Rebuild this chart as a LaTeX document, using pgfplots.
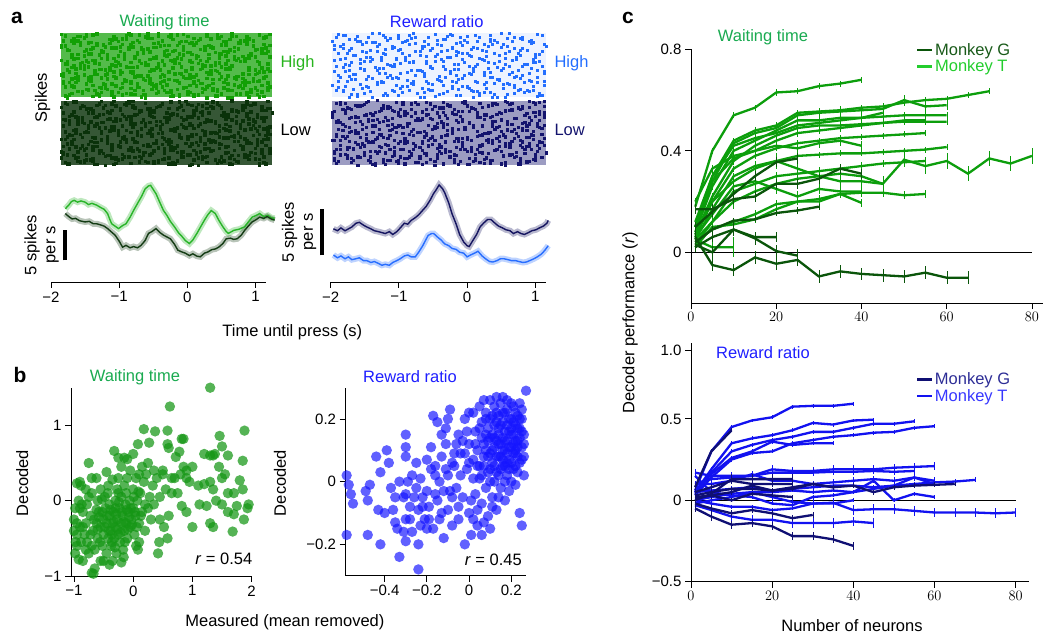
\documentclass[border=0pt]{standalone}
\usepackage{fontspec}
\setmainfont{Liberation Sans}
\usepackage{pgfplots}
\usepackage{pgfplotstable}
\pgfplotsset{compat=1.18}
\definecolor{wt}{RGB}{25,170,80}
\definecolor{rr}{RGB}{30,30,255}
\definecolor{rGH}{RGB}{18,160,5}
\definecolor{rGL}{RGB}{10,50,10}
\definecolor{rBH}{RGB}{35,110,255}
\definecolor{rNL}{RGB}{20,20,110}
\definecolor{tGH}{RGB}{40,180,30}
\definecolor{pGH}{RGB}{40,180,40}
\definecolor{pGL}{RGB}{20,60,20}
\definecolor{pNV}{RGB}{20,20,95}
\definecolor{pLB}{RGB}{40,110,255}
\definecolor{sg}{RGB}{20,150,20}
\definecolor{sb}{RGB}{20,20,255}
\definecolor{cG}{RGB}{10,85,10}
\definecolor{cT}{RGB}{12,158,12}
\definecolor{bG}{RGB}{15,15,115}
\definecolor{bT}{RGB}{18,18,240}
\definecolor{lgG}{RGB}{25,90,25}
\definecolor{lgT}{RGB}{35,205,45}
\definecolor{lbG}{RGB}{45,45,150}
\definecolor{lbT}{RGB}{55,55,255}
\newcommand\fs{\fontsize{15}{17}\selectfont}
\newcommand\fl{\fontsize{16.5}{19}\selectfont}
\pgfplotsset{
  base/.style={scale only axis, clip=false, axis lines*=left, tick align=outside,
    major tick length=6pt, axis line style={line width=0.8pt},
    every tick/.append style={line width=0.8pt, black},
    tick label style={font=\fs}},
  gG/.style={cG, line width=2.3pt, forget plot, error bars/y dir=both, error bars/y fixed=#1, error bars/error mark=none},
  gG/.default=0.012,
  gT/.style={cT, line width=2.3pt, forget plot, error bars/y dir=both, error bars/y fixed=#1, error bars/error mark=none},
  gT/.default=0.012,
  xG/.style={bG, line width=2.3pt, forget plot, error bars/y dir=both, error bars/y fixed=#1, error bars/error mark=none},
  xG/.default=0.012,
  xT/.style={bT, line width=2.3pt, forget plot, error bars/y dir=both, error bars/y fixed=#1, error bars/error mark=none},
  xT/.default=0.012,
  sp/.style={only marks, mark=square*, mark size=#1, mark options={draw=none}},
}
\pgfplotstableread{
x y
0.03 0.02
0.17 0.06
0.24 0.04
0.38 0.01
0.45 0.07
0.56 0.03
0.63 0.05
0.79 0.00
0.85 0.06
0.96 0.02
0.08 0.10
0.12 0.13
0.27 0.08
0.33 0.14
0.49 0.11
0.52 0.09
0.68 0.13
0.74 0.12
0.88 0.08
0.93 0.11
0.05 0.18
0.19 0.15
0.21 0.20
0.36 0.17
0.43 0.21
0.58 0.16
0.61 0.19
0.77 0.15
0.82 0.20
0.99 0.17
0.01 0.25
0.14 0.28
0.29 0.22
0.31 0.26
0.47 0.23
0.54 0.27
0.66 0.22
0.72 0.28
0.89 0.24
0.91 0.26
0.07 0.31
0.11 0.35
0.25 0.33
0.39 0.29
0.41 0.34
0.59 0.30
0.64 0.35
0.76 0.32
0.83 0.29
0.97 0.33
0.04 0.40
0.16 0.37
0.23 0.42
0.34 0.38
0.48 0.36
0.51 0.41
0.69 0.39
0.71 0.42
0.86 0.37
0.94 0.40
0.09 0.46
0.18 0.44
0.26 0.49
0.32 0.47
0.44 0.43
0.57 0.48
0.62 0.45
0.78 0.44
0.81 0.49
0.95 0.46
0.02 0.52
0.13 0.55
0.28 0.51
0.37 0.57
0.46 0.53
0.53 0.56
0.67 0.51
0.73 0.54
0.87 0.57
0.98 0.52
0.06 0.60
0.15 0.58
0.22 0.63
0.35 0.61
0.42 0.59
0.55 0.62
0.65 0.64
0.79 0.58
0.84 0.61
0.92 0.63
0.08 0.67
0.19 0.70
0.27 0.65
0.30 0.69
0.49 0.71
0.58 0.66
0.61 0.70
0.75 0.68
0.89 0.65
0.96 0.69
0.03 0.74
0.11 0.72
0.24 0.77
0.38 0.75
0.45 0.78
0.50 0.73
0.68 0.76
0.77 0.72
0.82 0.78
0.93 0.75
0.00 0.81
0.17 0.84
0.21 0.79
0.33 0.83
0.47 0.80
0.56 0.85
0.63 0.82
0.71 0.79
0.85 0.84
0.99 0.81
0.05 0.88
0.14 0.86
0.29 0.91
0.36 0.89
0.43 0.92
0.59 0.87
0.66 0.90
0.74 0.92
0.88 0.87
0.91 0.89
0.09 0.95
0.12 0.98
0.25 0.93
0.31 0.96
0.41 0.99
0.52 0.94
0.69 0.97
0.76 0.95
0.81 0.99
0.97 0.94
}\rasterpts
\pgfplotstableread{
t y
-1.79 9.7
-1.74 10.3
-1.70 10.9
-1.66 11.1
-1.61 10.8
-1.56 11.0
-1.50 10.8
-1.45 10.4
-1.40 10.6
-1.33 10.3
-1.27 9.9
-1.22 9.6
-1.17 8.9
-1.14 8.0
-1.11 7.2
-1.06 6.8
-1.01 6.4
-0.95 6.9
-0.90 7.2
-0.84 8.3
-0.78 9.6
-0.73 10.6
-0.67 11.8
-0.62 13.0
-0.57 13.5
-0.54 13.6
-0.50 12.9
-0.46 12.2
-0.41 10.9
-0.35 9.4
-0.30 8.6
-0.25 7.6
-0.19 6.7
-0.13 5.7
-0.08 5.1
-0.03 4.4
0.03 3.9
0.08 4.5
0.14 5.6
0.19 6.6
0.25 7.8
0.30 8.7
0.35 9.4
0.41 8.9
0.46 7.8
0.52 6.7
0.57 5.9
0.60 5.6
0.65 5.9
0.68 6.1
0.76 6.3
0.84 6.7
0.90 7.6
0.95 8.3
1.01 8.6
1.06 8.9
1.12 8.4
1.18 8.6
1.23 8.2
1.28 8.1
}\psthGH
\pgfplotstableread{
t y
-1.79 8.9
-1.74 8.4
-1.69 8.0
-1.64 8.1
-1.58 7.7
-1.50 7.5
-1.44 7.6
-1.38 7.2
-1.33 7.2
-1.27 7.0
-1.22 6.8
-1.17 6.4
-1.11 5.8
-1.06 5.3
-1.00 4.3
-0.95 3.3
-0.90 3.6
-0.84 3.2
-0.79 3.4
-0.73 3.2
-0.68 3.6
-0.62 4.4
-0.57 5.6
-0.52 5.9
-0.46 6.4
-0.41 5.8
-0.35 5.3
-0.30 5.0
-0.25 4.7
-0.19 3.8
-0.14 2.8
-0.08 2.5
-0.03 2.3
0.03 1.9
0.08 2.2
0.14 1.8
0.19 1.7
0.25 2.3
0.30 2.5
0.36 2.9
0.41 3.0
0.46 3.3
0.52 3.9
0.57 4.7
0.63 4.8
0.68 4.6
0.73 4.7
0.79 5.3
0.84 6.1
0.90 6.9
0.95 7.5
1.01 7.9
1.06 8.3
1.12 8.1
1.17 8.4
1.23 8.0
1.28 7.8
}\psthGL
\pgfplotstableread{
t y
-1.96 4.8
-1.90 4.6
-1.85 4.9
-1.79 4.6
-1.74 4.8
-1.69 5.0
-1.63 5.4
-1.58 5.5
-1.52 5.2
-1.47 5.0
-1.41 4.8
-1.36 4.6
-1.30 4.5
-1.25 4.4
-1.20 4.3
-1.14 4.5
-1.09 4.2
-1.03 4.5
-0.98 4.9
-0.92 5.4
-0.87 5.3
-0.82 5.7
-0.76 6.0
-0.71 6.3
-0.65 6.8
-0.60 7.2
-0.54 7.9
-0.49 8.6
-0.46 8.9
-0.41 9.5
-0.36 9.1
-0.33 8.7
-0.27 7.6
-0.22 6.4
-0.16 5.3
-0.11 4.2
-0.05 3.4
0.00 3.0
0.03 2.9
0.08 3.5
0.14 4.2
0.19 5.0
0.24 5.4
0.30 5.8
0.35 5.8
0.41 5.4
0.46 5.1
0.52 4.9
0.57 4.7
0.63 4.6
0.68 4.3
0.74 4.5
0.79 4.3
0.84 4.2
0.90 4.4
0.95 4.6
1.01 4.7
1.06 4.9
1.12 5.1
1.17 5.4
1.19 5.7
}\psthNV
\pgfplotstableread{
t y
-1.96 2.0
-1.90 1.7
-1.85 1.9
-1.79 1.6
-1.74 1.8
-1.69 1.5
-1.63 1.6
-1.58 1.7
-1.52 1.4
-1.47 1.4
-1.41 1.2
-1.36 1.3
-1.30 1.1
-1.25 0.9
-1.20 1.0
-1.14 0.9
-1.09 1.2
-1.03 1.4
-0.98 1.6
-0.92 1.9
-0.87 2.0
-0.82 1.8
-0.76 1.8
-0.71 2.3
-0.65 3.0
-0.60 3.7
-0.57 4.1
-0.52 4.3
-0.49 4.3
-0.43 3.9
-0.38 3.6
-0.33 3.2
-0.27 3.0
-0.22 2.7
-0.16 2.6
-0.11 2.3
-0.05 2.2
0.00 1.8
0.05 2.0
0.11 2.2
0.16 2.4
0.22 1.9
0.27 1.6
0.33 1.3
0.38 1.25
0.44 1.4
0.49 1.6
0.54 1.6
0.60 1.5
0.65 1.4
0.71 1.4
0.76 1.3
0.82 1.2
0.87 1.25
0.92 1.4
0.98 1.6
1.03 1.8
1.09 2.1
1.14 2.5
1.19 3.0
}\psthLB
\begin{document}
\begin{tikzpicture}
\useasboundingbox (0,0) rectangle (1044pt,634pt);
% ---------- panel a rasters ----------
\begin{axis}[scale only axis, hide axis, clip=false, at={(61pt,469pt)}, anchor=south west,
  width=211pt, height=132pt, xmin=0, xmax=1, ymin=0, ymax=2]
\addplot[fill=rGH!72!white, draw=none] coordinates {(0,1.023)(1,1.023)(1,2)(0,2)};
\addplot[fill=rGL!82!white, draw=none] coordinates {(0,0)(1,0)(1,0.977)(0,0.977)};
\addplot[sp=1.25pt, rGH] table[x=x, y expr=1.023+0.977*\thisrow{y}] {\rasterpts};
\addplot[sp=1.25pt, rGH] table[x=y, y expr=1.023+0.977*\thisrow{x}] {\rasterpts};
\addplot[sp=1.25pt, rGH] table[x expr={mod(\thisrow{x}+0.37,1)}, y expr={1.023+0.977*mod(\thisrow{y}+0.53,1)}] {\rasterpts};
\addplot[sp=1.25pt, rGH] table[x expr={mod(\thisrow{y}+0.61,1)}, y expr={1.023+0.977*mod(\thisrow{x}+0.29,1)}] {\rasterpts};
\addplot[sp=1.25pt, rGL] table[x expr=1-\thisrow{x}, y expr=0.977*\thisrow{y}] {\rasterpts};
\addplot[sp=1.25pt, rGL] table[x=y, y expr=0.977*(1-\thisrow{x})] {\rasterpts};
\addplot[sp=1.25pt, rGL] table[x expr={mod(\thisrow{x}+0.19,1)}, y expr={0.977*mod(\thisrow{y}+0.41,1)}] {\rasterpts};
\addplot[sp=1.25pt, rGL] table[x expr={mod(\thisrow{y}+0.73,1)}, y expr={0.977*mod(\thisrow{x}+0.57,1)}] {\rasterpts};
\end{axis}
\begin{axis}[scale only axis, hide axis, clip=false, at={(332pt,469pt)}, anchor=south west,
  width=214pt, height=132pt, xmin=0, xmax=1, ymin=0, ymax=2]
\addplot[fill=rBH!8!white, draw=none] coordinates {(0,1.023)(1,1.023)(1,2)(0,2)};
\addplot[fill=rNL!42!white, draw=none] coordinates {(0,0)(1,0)(1,0.977)(0,0.977)};
\addplot[sp=1.0pt, rBH] table[x=x, y expr=1.023+0.977*(1-\thisrow{y})] {\rasterpts};
\addplot[sp=1.0pt, rBH] table[x expr=1-\thisrow{y}, y expr=1.023+0.977*\thisrow{x}] {\rasterpts};
\addplot[sp=1.0pt, rBH] table[x expr={mod(\thisrow{x}+0.47,1)}, y expr={1.023+0.977*mod(\thisrow{y}+0.31,1)}] {\rasterpts};
\addplot[sp=1.1pt, rNL] table[x expr=1-\thisrow{x}, y expr=0.977*(1-\thisrow{y})] {\rasterpts};
\addplot[sp=1.1pt, rNL] table[x=y, y expr=0.977*\thisrow{x}] {\rasterpts};
\addplot[sp=1.1pt, rNL] table[x expr={mod(\thisrow{x}+0.23,1)}, y expr={0.977*mod(\thisrow{y}+0.67,1)}] {\rasterpts};
\addplot[sp=1.1pt, rNL] table[x expr={mod(\thisrow{y}+0.55,1)}, y expr={0.977*mod(\thisrow{x}+0.13,1)}] {\rasterpts};
\end{axis}
% ---------- panel a PSTH ----------
\begin{axis}[base, axis x line*=bottom, axis y line=none, at={(51pt,352pt)}, anchor=south west,
  width=214.8pt, height=101.7pt, xmin=-2, xmax=1.15, ymin=-2.5, ymax=14.44,
  xtick={-2,-1,0,1}, xticklabels={−2,−1,0,1}]
\addplot[pGH, opacity=0.3, line width=6pt] table[x=t,y=y] {\psthGH};
\addplot[pGL, opacity=0.3, line width=6pt] table[x=t,y=y] {\psthGL};
\addplot[pGH, line width=1.4pt] table[x=t,y=y] {\psthGH};
\addplot[pGL, line width=1.4pt] table[x=t,y=y] {\psthGL};
\addplot[black, line width=4pt] coordinates {(-1.80,1.11)(-1.80,6.11)};
\end{axis}
\begin{axis}[base, axis x line*=bottom, axis y line=none, at={(330.7pt,352pt)}, anchor=south west,
  width=214.8pt, height=101.7pt, xmin=-2, xmax=1.15, ymin=-0.89, ymax=10,
  xtick={-2,-1,0,1}, xticklabels={−2,−1,0,1}]
\addplot[pNV, opacity=0.3, line width=6pt] table[x=t,y=y] {\psthNV};
\addplot[pLB, opacity=0.3, line width=6pt] table[x=t,y=y] {\psthLB};
\addplot[pNV, line width=1.4pt] table[x=t,y=y] {\psthNV};
\addplot[pLB, line width=1.4pt] table[x=t,y=y] {\psthLB};
\addplot[black, line width=4pt] coordinates {(-2.13,1.96)(-2.13,6.96)};
\end{axis}
% ---------- panel b ----------
\begin{axis}[base, at={(71pt,58pt)}, anchor=south west, width=180.6pt, height=188.3pt,
  xmin=-1.05, xmax=2, ymin=-1, ymax=1.5, xtick={-1,0,1,2}, xticklabels={−1,0,1,2},
  ytick={-1,0,1}, yticklabels={−1,0,1}]
\addplot[only marks, sg, mark=*, mark size=5.2pt, mark options={draw opacity=0, fill=sg, fill opacity=0.72}] coordinates {
(1.3,1.5)(0.62,1.25)(1.88,0.93)(0.18,0.95)(0.37,0.92)(0.58,0.93)(0.82,0.82)(0.85,0.82)(1.46,0.86)(0.58,0.75)(0.27,0.77)(0.08,0.75)(1.5,0.72)(0.6,0.7)(-0.32,0.66)(0.78,0.65)(1.2,0.62)(1.3,0.6)(1.38,0.62)(1.6,0.6)(0.0,0.62)(-0.15,0.57)(-0.25,0.57)(1.85,0.53)(-0.75,0.5)(0.72,0.58)(1.0,0.45)(0.35,0.4)(0.5,0.4)(1.45,0.45)(1.55,0.35)(1.5,0.3)(1.8,0.27)(0.9,0.3)(0.65,0.3)(1.3,0.25)(1.2,0.22)(1.85,0.15)(1.1,0.2)(1.0,-0.35)(1.3,-0.3)(1.35,0.6)(1.6,0.1)(1.12,-0.05)(1.24,-0.07)(1.5,-0.05)(1.75,-0.07)(1.95,-0.05)(1.93,-0.1)(1.6,-0.15)(1.7,-0.18)(1.87,-0.25)(1.68,-0.41)(1.35,-0.35)(0.82,-0.07)(0.44,-0.55)(0.58,-0.5)(0.52,-0.35)(0.45,-0.25)(0.25,-0.1)(0.42,-0.7)(-0.67,-0.97)(-0.7,-0.96)(-0.2,-0.82)(-0.5,-0.8)(0.08,-0.65)(0.05,-0.6)(1.35,0.15)(1.7,0.1)(1.4,0.0)(0.95,0.25)(0.75,0.1)(0.9,-0.15)
(-1.0,-0.25)(-1.0,-0.4)(-0.98,-0.7)(-0.95,-0.6)(-0.92,-0.78)(-0.95,-0.3)(-0.9,-0.1)(-0.92,0.0)(-0.95,0.23)(-0.88,0.2)(-0.85,-0.15)(-0.82,-0.45)(-0.8,-0.3)(-0.78,-0.55)(-0.75,-0.7)(-0.75,0.05)(-0.72,-0.2)(-0.7,0.1)(-0.68,-0.4)(-0.65,-0.65)(-0.62,-0.3)(-0.6,0.0)(-0.6,-0.5)(-0.58,-0.15)(-0.55,-0.35)(-0.55,0.15)(-0.52,-0.6)(-0.5,-0.25)(-0.5,-0.45)(-0.48,0.05)(-0.47,-0.1)(-0.45,-0.7)(-0.45,-0.3)(-0.42,-0.5)(-0.42,0.2)(-0.4,-0.2)(-0.4,-0.05)(-0.38,-0.4)(-0.37,-0.6)(-0.35,-0.3)(-0.35,0.28)(-0.33,-0.15)(-0.32,-0.5)(-0.3,0.0)(-0.3,-0.35)(-0.28,-0.7)(-0.27,-0.25)(-0.25,-0.45)(-0.25,0.1)(-0.23,-0.1)(-0.22,-0.55)(-0.2,-0.3)(-0.2,0.05)(-0.18,-0.2)(-0.17,-0.65)(-0.15,-0.4)(-0.15,0.2)(-0.13,-0.05)(-0.12,-0.3)(-0.1,-0.5)(-0.1,0.3)(-0.08,-0.15)(-0.06,0.0)(-0.05,-0.35)(-0.03,-0.25)(0.0,-0.1)(0.0,0.15)(0.02,-0.45)(0.04,-0.2)(0.05,0.3)(0.07,0.0)(0.1,-0.3)(0.12,0.1)(0.15,-0.15)(0.18,0.25)(0.2,-0.05)(0.22,0.35)(0.28,0.05)(0.3,-0.25)(0.33,0.2)(0.35,-0.05)(0.4,0.3)(0.45,0.05)(0.5,0.35)(0.55,0.15)(0.6,-0.2)(0.65,0.1)(0.7,0.3)(0.8,0.35)(0.85,0.45)(0.9,0.4)(-0.55,-0.8)(-0.35,-0.8)(-0.4,-0.85)(-0.65,-0.9)(-0.85,-0.8)(-0.3,-0.1)(-0.62,0.3)(-0.7,0.3)(-0.9,0.25)(-0.8,0.15)(-0.45,0.38)(-0.2,0.45)(-0.1,0.55)(0.15,0.45)(0.25,0.5)(0.1,0.35)(-0.05,0.4)(-0.25,0.3)(-0.78,-0.05)(-0.58,-0.22)(-0.36,-0.55)(-0.16,-0.75)(0.1,-0.55)(0.2,-0.4)(-0.95,-0.45)(-0.88,-0.55)(-0.98,-0.1)
(-0.85,-0.35)(-0.72,-0.45)(-0.66,-0.25)(-0.6,-0.38)(-0.56,-0.55)(-0.52,-0.15)(-0.48,-0.35)(-0.44,-0.2)(-0.41,-0.4)(-0.38,-0.12)(-0.36,-0.45)(-0.33,-0.28)(-0.31,-0.62)(-0.29,-0.18)(-0.26,-0.38)(-0.24,-0.02)(-0.21,-0.42)(-0.19,-0.15)(-0.16,-0.28)(-0.14,-0.55)(-0.11,-0.12)(-0.09,-0.38)(-0.07,-0.22)(-0.04,-0.1)(-0.02,-0.32)(0.01,0.05)(0.03,-0.15)(0.06,-0.35)(0.09,0.12)(0.13,-0.2)(-0.62,-0.12)(-0.7,-0.6)(-0.8,-0.65)(-0.9,-0.35)(-0.97,-0.55)(-0.87,-0.05)(-0.53,0.02)(-0.43,0.1)(-0.27,0.15)(-0.12,0.1)
};
\end{axis}
\begin{axis}[base, at={(345.6pt,58.3pt)}, anchor=south west, width=180.4pt, height=188.1pt,
  xmin=-0.585, xmax=0.27, ymin=-0.3, ymax=0.3, xtick={-0.4,-0.2,0,0.2}, xticklabels={−0.4,−0.2,0,0.2},
  ytick={-0.2,0,0.2}, yticklabels={−0.2,0,0.2}]
\addplot[only marks, sb, mark=*, mark size=5.2pt, mark options={draw opacity=0, fill=sb, fill opacity=0.68}] coordinates {
(-0.58,0.02)(-0.57,-0.01)(-0.56,-0.04)(-0.55,-0.07)(-0.58,-0.17)(-0.48,-0.17)(-0.48,-0.06)(-0.49,-0.03)(-0.47,-0.01)(-0.44,0.08)(-0.42,0.03)(-0.43,-0.09)(-0.42,-0.2)(-0.4,-0.1)(-0.39,0.1)(-0.38,0.06)(-0.37,-0.02)(-0.36,-0.09)(-0.35,-0.13)(-0.34,-0.15)(-0.33,0.0)(-0.33,-0.24)(-0.31,-0.05)(-0.3,0.15)(-0.3,0.11)(-0.3,0.08)(-0.3,-0.04)(-0.3,-0.12)(-0.3,-0.19)(-0.28,-0.08)(-0.27,0.02)(-0.25,-0.02)(-0.24,-0.09)(-0.24,-0.2)(-0.24,-0.28)(-0.23,0.01)(-0.22,-0.05)(-0.21,-0.12)(-0.2,0.07)(-0.2,-0.03)(-0.19,-0.08)(-0.18,0.11)(-0.17,-0.15)(-0.16,0.02)(-0.16,0.05)(-0.15,-0.06)(-0.14,-0.12)(-0.13,0.08)(-0.12,-0.03)(-0.12,-0.18)(-0.11,0.17)(-0.11,0.12)(-0.1,0.02)(-0.1,-0.09)(-0.1,0.2)(-0.09,0.23)(-0.08,-0.14)(-0.07,0.05)(-0.06,-0.02)(-0.05,-0.12)(-0.05,0.15)(-0.04,0.09)(-0.03,-0.05)(-0.02,0.2)(-0.02,-0.2)(-0.01,0.04)(0.0,0.12)(0.0,-0.1)(0.01,-0.17)(0.02,0.07)(0.02,0.22)(0.03,-0.04)(0.04,0.1)(0.04,-0.14)(0.05,0.17)(0.05,0.01)(0.06,-0.07)(0.07,0.12)(0.07,0.05)(0.08,-0.02)(0.08,0.2)(0.09,-0.11)(0.09,0.08)(0.1,0.14)(0.1,0.0)(0.1,0.26)(0.11,0.06)(0.11,-0.05)(0.12,0.18)(0.12,0.11)(0.13,0.03)(0.13,-0.09)(0.13,0.22)(0.14,0.15)(0.14,0.08)(0.15,-0.02)(0.15,0.12)(0.15,0.25)(0.16,0.19)(0.16,0.05)(0.17,-0.06)(0.17,0.1)(0.17,0.16)(0.18,0.23)(0.18,0.02)(0.18,0.13)(0.19,0.07)(0.19,-0.03)(0.2,0.2)(0.2,0.11)(0.2,0.25)(0.21,0.15)(0.21,0.04)(0.22,0.09)(0.22,0.18)(0.22,-0.01)(0.23,0.21)(0.23,0.13)(0.24,0.06)(0.24,0.17)(0.25,0.11)(0.25,0.2)(0.26,0.08)(0.26,0.15)(0.27,0.29)(0.24,-0.1)(0.25,-0.14)(0.23,0.03)(0.21,0.24)(0.19,0.16)(0.16,0.27)(0.14,0.21)(0.11,0.21)(0.12,0.24)(0.09,0.17)(0.08,0.1)(0.06,0.14)(0.05,0.24)(0.03,0.16)(0.0,0.22)(-0.03,0.13)(-0.07,0.09)(-0.15,0.19)(-0.17,0.21)(-0.27,-0.16)(-0.35,-0.05)(-0.2,-0.15)(-0.13,-0.1)(-0.08,-0.05)(0.02,-0.12)(0.06,-0.17)(0.11,-0.08)(0.14,-0.05)(0.17,0.0)(0.2,0.06)(0.22,0.1)(0.24,0.14)(0.18,0.09)(0.15,0.04)(0.12,0.0)(0.19,0.11)(0.21,0.19)(0.23,0.17)(0.16,0.14)(0.13,0.08)(0.1,0.09)(0.17,0.22)(0.25,0.23)(0.26,0.02)(0.13,0.27)(0.2,0.15)(0.18,0.18)(0.16,0.1)(0.14,0.12)(0.22,0.13)
(0.05,0.05)(0.06,0.19)(0.07,0.26)(0.08,0.15)(0.09,0.03)(0.1,0.2)(0.11,0.15)(0.12,0.05)(0.13,0.13)(0.14,0.02)(0.15,0.18)(0.16,0.22)(0.17,0.05)(0.18,0.26)(0.19,0.2)(0.2,0.0)(0.21,0.09)(0.22,0.22)(0.23,0.08)(0.24,0.25)(0.25,0.16)(0.26,0.12)(0.24,0.2)(0.21,0.12)(0.19,0.04)(0.16,0.07)(0.14,0.17)(0.12,0.14)(0.11,0.1)(0.09,0.13)(0.07,0.08)(0.06,0.02)(0.04,0.05)(0.03,0.12)(0.02,0.01)(0.0,0.06)(-0.01,0.16)(-0.02,0.09)(-0.04,0.02)(-0.06,0.12)(-0.08,0.06)(-0.09,-0.03)(-0.11,0.04)(-0.13,0.15)(-0.14,0.0)(-0.16,-0.04)(-0.18,0.04)(-0.19,-0.12)(-0.22,-0.08)(-0.23,-0.14)(-0.25,0.06)(-0.26,-0.05)(-0.28,-0.12)(-0.29,0.0)(-0.31,-0.16)(0.17,0.13)(0.2,0.17)(0.22,0.05)(0.15,0.08)(0.13,0.19)(0.18,0.06)(0.23,0.11)(0.25,0.07)(0.1,0.04)(0.08,0.22)(-0.05,-0.08)(0.01,-0.06)(0.04,-0.09)(0.07,-0.13)(0.1,-0.15)
};
\end{axis}
% ---------- panel c top ----------
\begin{axis}[base, at={(691pt,330.9pt)}, anchor=south west, width=352pt, height=253.75pt,
  xmin=0, xmax=82.6, ymin=-0.2, ymax=0.8, xtick={0,20,40,60,80}, ytick={0,0.4,0.8},
  yticklabels={0,0.4,0.8},
  legend style={at={(0.639,1.03)}, anchor=north west, draw=none, fill=none, font=\fl,
    row sep=0pt, inner sep=0pt, nodes={inner sep=1.5pt}},
  legend cell align=left,
  legend image code/.code={\draw[#1, line width=2.5pt] (0pt,0pt) -- (15pt,0pt);}]
\addplot[black, line width=0.7pt, forget plot] coordinates {(0,0)(80,0)};
\addplot[gT] coordinates {(1,0.18)(5,0.40)(10,0.54)(15,0.57)(20,0.63)(25,0.635)(30,0.655)(35,0.665)(40,0.68)};
\addplot[gT] coordinates {(1,0.12)(5,0.30)(10,0.44)(15,0.48)(20,0.50)(25,0.55)(30,0.555)(35,0.56)(40,0.57)(45,0.575)(50,0.59)(55,0.60)(60,0.605)(65,0.62)(70,0.635)};
\addplot[gT=0.02] coordinates {(1,0.10)(5,0.28)(10,0.43)(15,0.47)(20,0.49)(25,0.54)(30,0.55)(35,0.555)(40,0.56)(45,0.565)(50,0.60)(55,0.575)(60,0.58)};
\addplot[gT=0.015] coordinates {(1,0.08)(5,0.26)(10,0.40)(15,0.44)(20,0.48)(25,0.52)(30,0.52)(35,0.53)(40,0.53)(45,0.535)(50,0.54)(55,0.54)(60,0.54)};
\addplot[gT=0.015] coordinates {(1,0.07)(5,0.22)(10,0.36)(15,0.42)(20,0.46)(25,0.49)(30,0.50)(35,0.50)(40,0.505)(45,0.51)(50,0.515)(55,0.515)(60,0.515)};
\addplot[gT] coordinates {(1,0.06)(5,0.20)(10,0.33)(15,0.38)(20,0.41)(25,0.43)(30,0.44)(35,0.45)(40,0.455)(45,0.46)(50,0.465)(55,0.47)};
\addplot[gT] coordinates {(1,0.05)(5,0.17)(10,0.30)(15,0.34)(20,0.36)(25,0.38)(30,0.385)(35,0.39)(40,0.39)(45,0.395)(50,0.40)(55,0.405)(60,0.415)};
\addplot[gT=0.015] coordinates {(1,0.03)(5,0.12)(10,0.24)(15,0.27)(20,0.30)(25,0.31)(30,0.32)(35,0.33)(40,0.34)(45,0.35)(50,0.355)(55,0.36)};
\addplot[gT=0.015] coordinates {(1,0.04)(5,0.09)(10,0.12)(15,0.15)(20,0.19)(25,0.20)(30,0.21)(35,0.23)(40,0.235)(45,0.235)(50,0.225)(55,0.23)};
\addplot[gT=0.03] coordinates {(1,0.05)(5,0.12)(10,0.20)(15,0.24)(20,0.27)(25,0.29)(30,0.30)(35,0.31)(40,0.30)(45,0.27)(50,0.365)(55,0.34)(60,0.36)(65,0.31)(70,0.37)(75,0.35)(80,0.38)};
\addplot[gT=0.015] coordinates {(1,0.02)(5,0.10)(10,0.11)(15,0.13)(20,0.17)(25,0.20)(30,0.20)(35,0.23)(40,0.195)};
\addplot[gT=0.03] coordinates {(1,0.07)(5,0.20)(10,0.28)(15,0.33)(20,0.36)(25,0.33)(30,0.30)(35,0.28)(40,0.28)(45,0.27)};
\addplot[gT=0.015] coordinates {(1,0.10)(5,0.30)(10,0.42)(15,0.45)(20,0.47)(25,0.50)(30,0.51)(35,0.52)(40,0.53)(45,0.55)};
\addplot[gT=0.04] coordinates {(1,0.05)(5,0.02)(10,0.02)};
\addplot[gT=0.02] coordinates {(1,0.10)(5,0.28)(10,0.37)(15,0.40)(20,0.42)(25,0.41)(30,0.43)(35,0.44)(40,0.42)};
\addplot[gT=0.02] coordinates {(1,0.06)(5,0.15)(10,0.26)(15,0.28)(20,0.25)(25,0.22)(30,0.25)(35,0.24)(40,0.24)};
\addplot[gT=0.015] coordinates {(1,0.2)(5,0.33)(10,0.38)(15,0.4)(20,0.44)(25,0.47)(30,0.48)(35,0.49)(40,0.5)(45,0.51)(50,0.52)(55,0.52)};
\addplot[gG=0.02] coordinates {(1,0.17)(5,0.17)(10,0.21)(15,0.22)(20,0.27)(25,0.27)(30,0.29)(35,0.33)(40,0.31)};
\addplot[gG=0.02] coordinates {(1,0.10)(5,0.16)(10,0.23)(15,0.30)(20,0.355)(25,0.37)};
\addplot[gG] coordinates {(1,0.04)(5,0.09)(10,0.125)(15,0.13)(20,0.155)(25,0.165)(30,0.18)};
\addplot[gG=0.02] coordinates {(1,0.02)(5,0.06)(10,0.09)(15,0.06)(20,0.06)};
\addplot[gG=0.025] coordinates {(1,0.03)(5,0.0)(10,0.09)(15,0.055)(20,0.005)(25,-0.013)};
\addplot[gG=0.025] coordinates {(1,0.06)(5,-0.05)(10,-0.07)(15,-0.02)(20,-0.045)(25,-0.03)(30,-0.095)(35,-0.075)(40,-0.085)(45,-0.09)(50,-0.095)(55,-0.08)(60,-0.1)(65,-0.1)};
\addlegendimage{cG}
\addlegendentry{\textcolor{lgG}{Monkey G}}
\addlegendimage{lgT}
\addlegendentry{\textcolor{lgT}{Monkey T}}
\end{axis}
% ---------- panel c bottom ----------
\begin{axis}[base, at={(691pt,52.3pt)}, anchor=south west, width=338pt, height=238.7pt,
  xmin=0, xmax=83.3, ymin=-0.5, ymax=0.966, xtick={0,20,40,60,80},
  ytick={-0.5,0,0.5,0.923}, yticklabels={−0.5,0,0.5,1.0},
  legend style={at={(0.665,0.883)}, anchor=north west, draw=none, fill=none, font=\fl,
    row sep=0pt, inner sep=0pt, nodes={inner sep=1.5pt}},
  legend cell align=left,
  legend image code/.code={\draw[#1, line width=2.5pt] (0pt,0pt) -- (15pt,0pt);}]
\addplot[black, line width=0.7pt, forget plot] coordinates {(0,0)(80,0)};
\addplot[xT] coordinates {(1,0.06)(5,0.3)(10,0.45)(15,0.49)(20,0.51)(25,0.575)(30,0.58)(35,0.58)(40,0.593)};
\addplot[xT] coordinates {(1,0.05)(5,0.19)(10,0.35)(15,0.38)(20,0.4)(25,0.43)(30,0.475)(35,0.465)(40,0.49)(45,0.495)};
\addplot[xT] coordinates {(1,0.04)(5,0.17)(10,0.3)(15,0.34)(20,0.37)(25,0.39)(30,0.42)(35,0.42)(40,0.445)(45,0.47)(50,0.47)(55,0.485)};
\addplot[xT] coordinates {(1,0.03)(5,0.14)(10,0.25)(15,0.29)(20,0.3)(25,0.35)(30,0.37)(35,0.39)(40,0.4)(45,0.415)(50,0.42)(55,0.445)(60,0.455)};
\addplot[xT] coordinates {(1,0.05)(5,0.16)(10,0.26)(15,0.3)(20,0.36)(25,0.34)(30,0.35)(35,0.35)};
\addplot[xT=0.025] coordinates {(1,0.17)(5,0.15)(10,0.15)(15,0.15)(20,0.19)(25,0.18)(30,0.18)(35,0.19)(40,0.19)(45,0.19)(50,0.2)(55,0.205)(60,0.21)};
\addplot[xT=0.02] coordinates {(1,0.1)(5,0.13)(10,0.14)(15,0.15)(20,0.17)(25,0.17)(30,0.17)(35,0.175)(40,0.175)(45,0.18)(50,0.175)(55,0.18)};
\addplot[xT=0.015] coordinates {(1,0.05)(5,0.06)(10,0.07)(15,0.08)(20,0.06)(25,0.07)(30,0.08)(35,0.09)(40,0.09)(45,0.08)(50,0.09)(55,0.1)(60,0.11)(65,0.115)(70,0.125)};
\addplot[xT] coordinates {(1,0.0)(5,0.02)(10,0.04)(15,0.05)(20,0.05)(25,0.06)(30,0.05)(35,0.06)(40,0.05)(45,0.12)(50,0.0)(55,0.04)(60,0.02)};
\addplot[xT=0.03] coordinates {(1,-0.02)(5,0.0)(10,0.02)(15,0.05)(20,0.02)(25,-0.01)(30,-0.02)(35,-0.015)(40,-0.06)(45,-0.055)(50,-0.055)(55,-0.065)(60,-0.075)(65,-0.075)(70,-0.075)(75,-0.08)(80,-0.075)};
\addplot[xT=0.03] coordinates {(1,-0.03)(5,-0.06)(10,-0.1)(15,-0.12)(20,-0.12)(25,-0.14)(30,-0.14)(35,-0.14)(40,-0.13)(45,-0.14)};
\addplot[xT] coordinates {(1,0.0)(5,-0.02)(10,-0.04)(15,-0.04)(20,-0.06)(25,-0.05)(30,-0.02)(35,-0.02)(40,0.0)};
\addplot[xT=0.02] coordinates {(1,0.1)(5,0.1)(10,0.12)(15,0.16)(20,0.12)(25,0.12)(30,0.1)(35,0.11)(40,0.12)(45,0.13)(50,0.12)(55,0.14)(60,0.12)};
\addplot[xT] coordinates {(1,0.15)(5,0.05)(10,0.03)(15,0.02)(20,-0.02)(25,-0.03)(30,0.02)(35,0.03)(40,0.05)(45,0.07)(50,0.09)(55,0.14)(60,0.1)};
\addplot[xG] coordinates {(1,0.08)(5,0.3)(10,0.43)};
\addplot[xG=0.015] coordinates {(1,0.02)(5,0.03)(10,0.05)(15,0.09)(20,0.06)(25,0.08)(30,0.1)(35,0.08)(40,0.09)(45,0.05)(50,0.08)(55,0.09)(60,0.095)(65,0.1)};
\addplot[xG=0.025] coordinates {(1,-0.05)(5,-0.1)(10,-0.15)(15,-0.14)(20,-0.16)(25,-0.22)(30,-0.22)(35,-0.24)(40,-0.28)};
\addplot[xG=0.02] coordinates {(1,-0.02)(5,-0.05)(10,-0.08)(15,-0.06)(20,-0.08)(25,-0.11)(30,-0.09)};
\addplot[xG=0.03] coordinates {(1,0.0)(5,0.04)(10,0.13)(15,0.13)(20,0.13)(25,0.13)};
\addplot[xG=0.02] coordinates {(1,0.05)(5,0.08)(10,0.12)(15,0.1)(20,0.1)(25,0.1)};
\addplot[xG] coordinates {(1,0.01)(5,0.03)(10,0.0)(15,0.04)(20,0.03)(25,0.02)};
\addplot[xG] coordinates {(1,0.03)(5,0.05)(10,0.07)(15,0.07)(20,0.06)(25,0.07)(30,0.1)(35,0.08)};
\addlegendimage{bG}
\addlegendentry{\textcolor{lbG}{Monkey G}}
\addlegendimage{bT}
\addlegendentry{\textcolor{lbT}{Monkey T}}
\end{axis}
% ---------- text ----------
\node[font=\fontsize{21}{24}\selectfont\bfseries] at (17pt,616pt) {a};
\node[font=\fontsize{21}{24}\selectfont\bfseries] at (20pt,259pt) {b};
\node[font=\fontsize{21}{24}\selectfont\bfseries] at (628pt,616pt) {c};
\node[font=\fl, text=wt] at (164.6pt,612pt) {Waiting time};
\node[font=\fl, text=rr] at (436.7pt,612pt) {Reward ratio};
\node[font=\fl, rotate=90] at (42.5pt,536pt) {Spikes};
\node[font=\fl, text=tGH, anchor=west] at (277pt,571pt) {High};
\node[font=\fl, anchor=west] at (277pt,504pt) {Low};
\node[font=\fl, text=rBH, anchor=west] at (551pt,571pt) {High};
\node[font=\fl, text=rNL, anchor=west] at (551pt,504pt) {Low};
\node[font=\fl, rotate=90, align=center, inner sep=0pt] at (41.6pt,389pt) {5 spikes\\per s};
\node[font=\fl, rotate=90, align=center, inner sep=0pt] at (299pt,402pt) {5 spikes\\per s};
\node[font=\fl] at (292.3pt,302pt) {Time until press (s)};
\node[font=\fl, text=wt] at (135pt,257pt) {Waiting time};
\node[font=\fl, text=rr] at (410pt,257pt) {Reward ratio};
\node[font=\fl, rotate=90] at (22.2pt,151pt) {Decoded};
\node[font=\fl, rotate=90] at (280pt,151pt) {Decoded};
\node[font=\fl] at (223.8pt,75pt) {\textit{r} = 0.54};
\node[font=\fl] at (493.3pt,74pt) {\textit{r} = 0.45};
\node[font=\fl] at (284.9pt,12pt) {Measured (mean removed)};
\node[font=\fl, text=wt] at (763pt,597pt) {Waiting time};
\node[font=\fl, text=rr] at (763pt,281pt) {Reward ratio};
\node[font=\fl, rotate=90] at (630pt,311pt) {Decoder performance (\textit{r})};
\node[font=\fl] at (852pt,8pt) {Number of neurons};
\end{tikzpicture}
\end{document}
